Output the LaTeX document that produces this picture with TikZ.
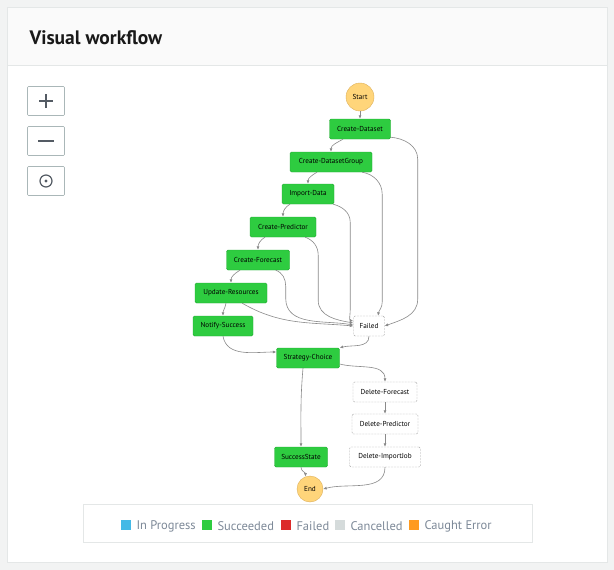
\documentclass[tikz,border=0pt]{standalone}
\usepackage{fontspec}
\setmainfont{PT Sans}
\usetikzlibrary{arrows.meta}
\definecolor{pagebg}{HTML}{F2F3F3}
\definecolor{cardline}{HTML}{E4E7E7}
\definecolor{headbg}{HTML}{FAFAFA}
\definecolor{okfill}{HTML}{2ECC40}
\definecolor{okline}{HTML}{22A832}
\definecolor{idleline}{HTML}{A9A9A9}
\definecolor{termfill}{HTML}{FFD57A}
\definecolor{termline}{HTML}{DDB05A}
\definecolor{edge}{HTML}{8A8A8A}
\definecolor{btnline}{HTML}{AAB7B8}
\definecolor{btnsym}{HTML}{545B64}
\definecolor{legtext}{HTML}{7D8998}
\definecolor{inprog}{HTML}{44B9E6}
\definecolor{badred}{HTML}{DC2B2B}
\definecolor{cancel}{HTML}{D5DBDB}
\definecolor{caught}{HTML}{FF9A1F}
\tikzset{>={Latex[length=3.5pt,width=3pt]}}
\tikzset{
  ok/.style={draw=okline, fill=okfill, rounded corners=1.5pt, minimum height=20pt, inner sep=1pt, text=black, font=\fontsize{7.2}{8}\selectfont},
  idle/.style={ok, draw=idleline, fill=white, dash pattern=on 2pt off 1pt},
  term/.style={circle, draw=termline, fill=termfill, inner sep=0pt, text=black, font=\fontsize{7.2}{8}\selectfont},
  flow/.style={->, draw=edge, line width=0.6pt},
  btn/.style={draw=btnline, rounded corners=1pt, minimum width=37pt, minimum height=29pt, line width=0.7pt},
  legsq/.style={minimum size=10pt, inner sep=0pt},
  legtxt/.style={anchor=west, text=legtext, font=\fontsize{12.5}{13}\selectfont}
}
\begin{document}
\begin{tikzpicture}[x=1pt,y=1pt]
    \useasboundingbox (0,0) rectangle (614,-570);
    \fill[pagebg] (0,0) rectangle (614,-570);
    \filldraw[fill=white, draw=cardline] (7,-7) rectangle (607,-562);
    \filldraw[fill=headbg, draw=cardline] (7,-7) rectangle (607,-65);
    \node[anchor=base west, text=black!90, font=\fontsize{19.5}{21}\selectfont\bfseries] (title) at (26,-44) {Visual workflow};

    \node[btn] (zin) at (46,-101) {};
    \node[btn] (zout) at (46,-141) {};
    \node[btn] (ctr) at (46,-181) {};
    \draw[btnsym, line width=1.3pt] (zin.center) +(-7,0) -- +(7,0) (zin.center) +(0,-7) -- +(0,7);
    \draw[btnsym, line width=1.3pt] (zout.center) +(-8,0) -- +(8,0);
    \draw[btnsym, line width=1.2pt] (ctr.center) circle (6);
    \fill[btnsym] (ctr.center) circle (1.7);

    \node[term, minimum size=28pt] (start) at (360,-97) {Start};
    \node[ok, minimum width=61pt] (cd) at (360,-129) {Create-Dataset};
    \node[ok, minimum width=82pt] (cdg) at (331,-162) {Create-DatasetGroup};
    \node[ok, minimum width=52pt] (imp) at (308,-194) {Import-Data};
    \node[ok, minimum width=66pt] (cp) at (283,-227) {Create-Predictor};
    \node[ok, minimum width=63pt] (cf) at (258,-260) {Create-Forecast};
    \node[ok, minimum width=72pt] (ur) at (231,-293) {Update-Resources};
    \node[ok, minimum width=60pt] (ns) at (223,-326) {Notify-Success};
    \node[idle, minimum width=31pt] (fl) at (369,-326) {Failed};
    \node[ok, minimum width=63pt] (sc) at (308,-358) {Strategy-Choice};
    \node[idle, minimum width=64pt] (dfc) at (385,-392) {Delete-Forecast};
    \node[idle, minimum width=66pt] (dpr) at (385,-424) {Delete-Predictor};
    \node[idle, minimum width=71pt] (dij) at (385,-457) {Delete-ImportJob};
    \node[ok, minimum width=53pt] (ss) at (301,-457) {SuccessState};
    \node[term, minimum size=26pt] (endn) at (310,-489) {End};

    \draw[flow] (start) -- (cd);
    \draw[flow] ([xshift=-17pt]cd.south) to[out=-150,in=90] (cdg.north);
    \draw[flow] ([xshift=-14pt]cdg.south) to[out=-150,in=90] (imp.north);
    \draw[flow] ([xshift=-18pt]imp.south) to[out=-150,in=90] (cp.north);
    \draw[flow] ([xshift=-18pt]cp.south) to[out=-150,in=90] (cf.north);
    \draw[flow] ([xshift=-18pt]cf.south) to[out=-150,in=90] (ur.north);
    \draw[flow] ([xshift=-5pt]ur.south) to[out=-100,in=90] (ns.north);
    \draw[flow] (ns.south) to[out=-80,in=180] ([yshift=6pt]sc.west);
    \draw[flow] (fl.south) to[out=-90,in=15] (sc.north east);
    \draw[flow] ([yshift=-6pt]sc.east) to[out=-15,in=90] (dfc.north);
    \draw[flow] ([xshift=-5pt]sc.south) to[out=-95,in=90] (ss.north);
    \draw[flow] (dfc) -- (dpr);
    \draw[flow] (dpr) -- (dij);
    \draw[flow] (dij.south) to[out=-90,in=15] (endn.east);
    \draw[flow] (ss.south) to[out=-90,in=90] (endn.110);

    \draw[flow] ([yshift=2pt]cd.south east) to[out=-5,in=90] ++(27,-22) -- ++(0,-140) to[out=-90,in=20] (fl.east);
    \draw[flow] ([xshift=-10pt]cdg.south east) to[out=-10,in=90] ++(20,-22) -- ++(0,-108) to[out=-90,in=80] ([xshift=9pt]fl.north);
    \draw[flow] ([xshift=-1pt]imp.south east) to[out=-15,in=90] ++(17,-18) -- ++(0,-88) to[out=-90,in=170] ([yshift=5pt]fl.west);
    \draw[flow] ([xshift=-11pt]cp.south east) to[out=-20,in=90] ++(13,-18) -- ++(0,-45) to[out=-90,in=170] ([yshift=3pt]fl.west);
    \draw[flow] ([xshift=-14pt]cf.south east) to[out=-20,in=90] ++(10,-16) -- ++(0,-12) to[out=-90,in=170] ([yshift=1pt]fl.west);
    \draw[flow] ([xshift=-25pt]ur.south east) to[out=-30,in=175] (fl.west);

    \draw[cardline, line width=0.8pt] (83,-504) rectangle (532,-542);
    \node[legsq, fill=inprog] (lg1) at (126,-525) {};
    \node[legtxt] (lt1) at (133,-526.5) {In Progress};
    \node[legsq, fill=okfill] (lg2) at (207,-525) {};
    \node[legtxt] (lt2) at (214,-526.5) {Succeeded};
    \node[legsq, fill=badred] (lg3) at (286,-525) {};
    \node[legtxt] (lt3) at (293,-526.5) {Failed};
    \node[legsq, fill=cancel] (lg4) at (340,-525) {};
    \node[legtxt] (lt4) at (347,-526.5) {Cancelled};
    \node[legsq, fill=caught] (lg5) at (414,-525) {};
    \node[legtxt] (lt5) at (421,-526.5) {Caught Error};
  \end{tikzpicture}
\end{document}
